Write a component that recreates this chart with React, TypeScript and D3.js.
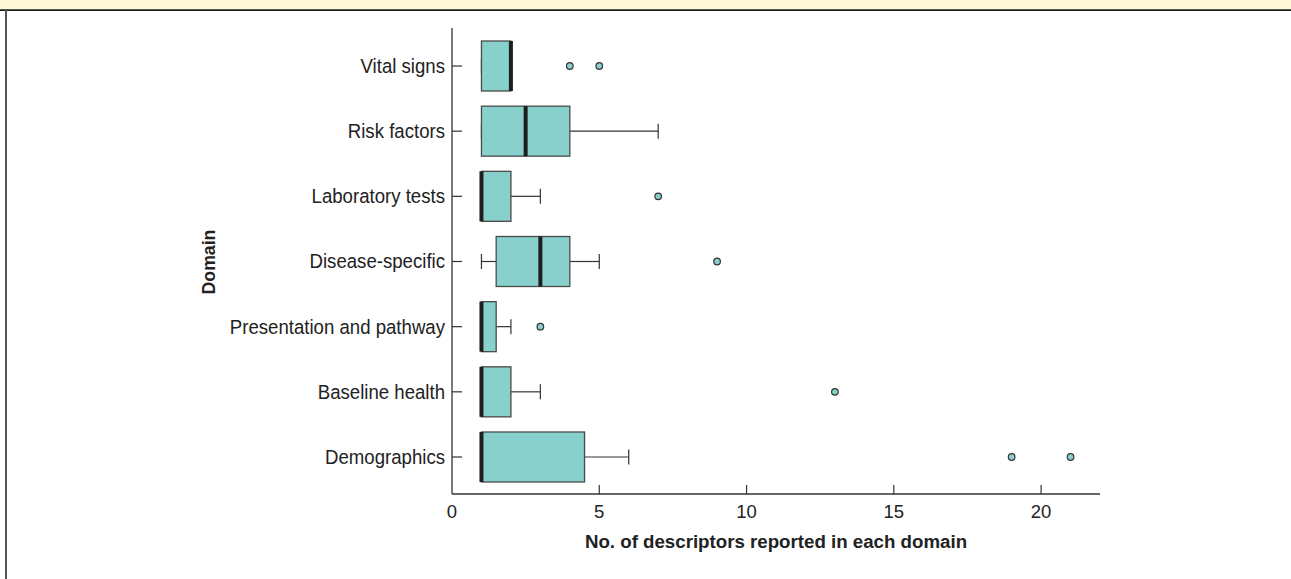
import React from "react";
import * as d3 from "d3";

const categories = [
  "Vital signs",
  "Risk factors",
  "Laboratory tests",
  "Disease-specific",
  "Presentation and pathway",
  "Baseline health",
  "Demographics",
];
const whiskerLow = [1, 1, 1, 1, 1, 1, 1];
const q1 = [1, 1, 1, 1.5, 1, 1, 1];
const medians = [2, 2.5, 1, 3, 1, 1, 1];
const q3 = [2, 4, 2, 4, 1.5, 2, 4.5];
const whiskerHigh = [2, 7, 3, 5, 2, 3, 6];
const outliers: number[][] = [[4, 5], [], [7], [9], [3], [13], [19, 21]];
const xTicks = [0, 5, 10, 15, 20];

const W = 1291;
const H = 579;
const FILL = "#88d0cb";
const FONT = "'Liberation Sans', Arial, Helvetica, sans-serif";

export default function App() {
  const x = d3.scaleLinear().domain([0, 22]).range([452, 1100]);
  const y = d3.scalePoint<string>().domain(categories).range([66, 457]);
  const boxH = 50;
  const capH = 15;
  const axisY = 494;
  const axisTop = 28;

  return (
    <svg
      width={W}
      height={H}
      style={{ position: "absolute", left: 0, top: 0, background: "#fff" }}
      fontFamily={FONT}
    >
      {/* frame */}
      <rect x={0} y={0} width={W} height={10} fill="#fef9d9" />
      <line x1={0} x2={W} y1={10.2} y2={10.2} stroke="#1e1e1e" strokeWidth={1.8} />
      <line x1={6} x2={6} y1={10} y2={H} stroke="#555" strokeWidth={2} />

      {/* axes */}
      <line x1={x(0)} x2={x(0)} y1={axisTop} y2={axisY} stroke="#333" strokeWidth={1.3} />
      <line x1={x(0)} x2={x(22)} y1={axisY} y2={axisY} stroke="#333" strokeWidth={1.3} />
      {xTicks.map((t) => (
        <g key={t}>
          {t !== 0 && (
            <line x1={x(t)} x2={x(t)} y1={axisY} y2={axisY - 9} stroke="#333" strokeWidth={1.2} />
          )}
          <text x={x(t)} y={517.7} textAnchor="middle" fontSize={18.5} fill="#222">
            {t}
          </text>
        </g>
      ))}
      {categories.map((c) => (
        <g key={c}>
          <line x1={x(0)} x2={x(0) + 10} y1={y(c)!} y2={y(c)!} stroke="#333" strokeWidth={1.2} />
          <text
            transform={`translate(445,${y(c)!}) scale(0.965,1)`}
            dy="0.36em"
            textAnchor="end"
            fontSize={19.3}
            fill="#222"
          >
            {c}
          </text>
        </g>
      ))}

      {/* boxes */}
      {categories.map((c, i) => {
        const cy = y(c)!;
        return (
          <g key={"b" + c}>
            <line x1={x(whiskerLow[i])} x2={x(q1[i])} y1={cy} y2={cy} stroke="#333" strokeWidth={1.2} />
            <line x1={x(q3[i])} x2={x(whiskerHigh[i])} y1={cy} y2={cy} stroke="#333" strokeWidth={1.2} />
            <line x1={x(whiskerLow[i])} x2={x(whiskerLow[i])} y1={cy - capH / 2} y2={cy + capH / 2} stroke="#333" strokeWidth={1.2} />
            <line x1={x(whiskerHigh[i])} x2={x(whiskerHigh[i])} y1={cy - capH / 2} y2={cy + capH / 2} stroke="#333" strokeWidth={1.2} />
            <rect
              x={x(q1[i])}
              y={cy - boxH / 2}
              width={x(q3[i]) - x(q1[i])}
              height={boxH}
              fill={FILL}
              stroke="#4a4a4a"
              strokeWidth={1.3}
            />
            <line x1={x(medians[i])} x2={x(medians[i])} y1={cy - boxH / 2} y2={cy + boxH / 2} stroke="#1e1e1e" strokeWidth={4} />
            {outliers[i].map((o) => (
              <circle key={o} cx={x(o)} cy={cy} r={3.3} fill={FILL} stroke="#333" strokeWidth={1.2} />
            ))}
          </g>
        );
      })}

      {/* titles */}
      <text
        x={(x(0) + x(22)) / 2}
        y={548.3}
        textAnchor="middle"
        fontSize={18.7}
        fontWeight="bold"
        fill="#222"
      >
        No. of descriptors reported in each domain
      </text>
      <text
        transform={`translate(215,262) rotate(-90)`}
        textAnchor="middle"
        fontSize={17.7}
        fontWeight="bold"
        fill="#222"
      >
        Domain
      </text>
    </svg>
  );
}
